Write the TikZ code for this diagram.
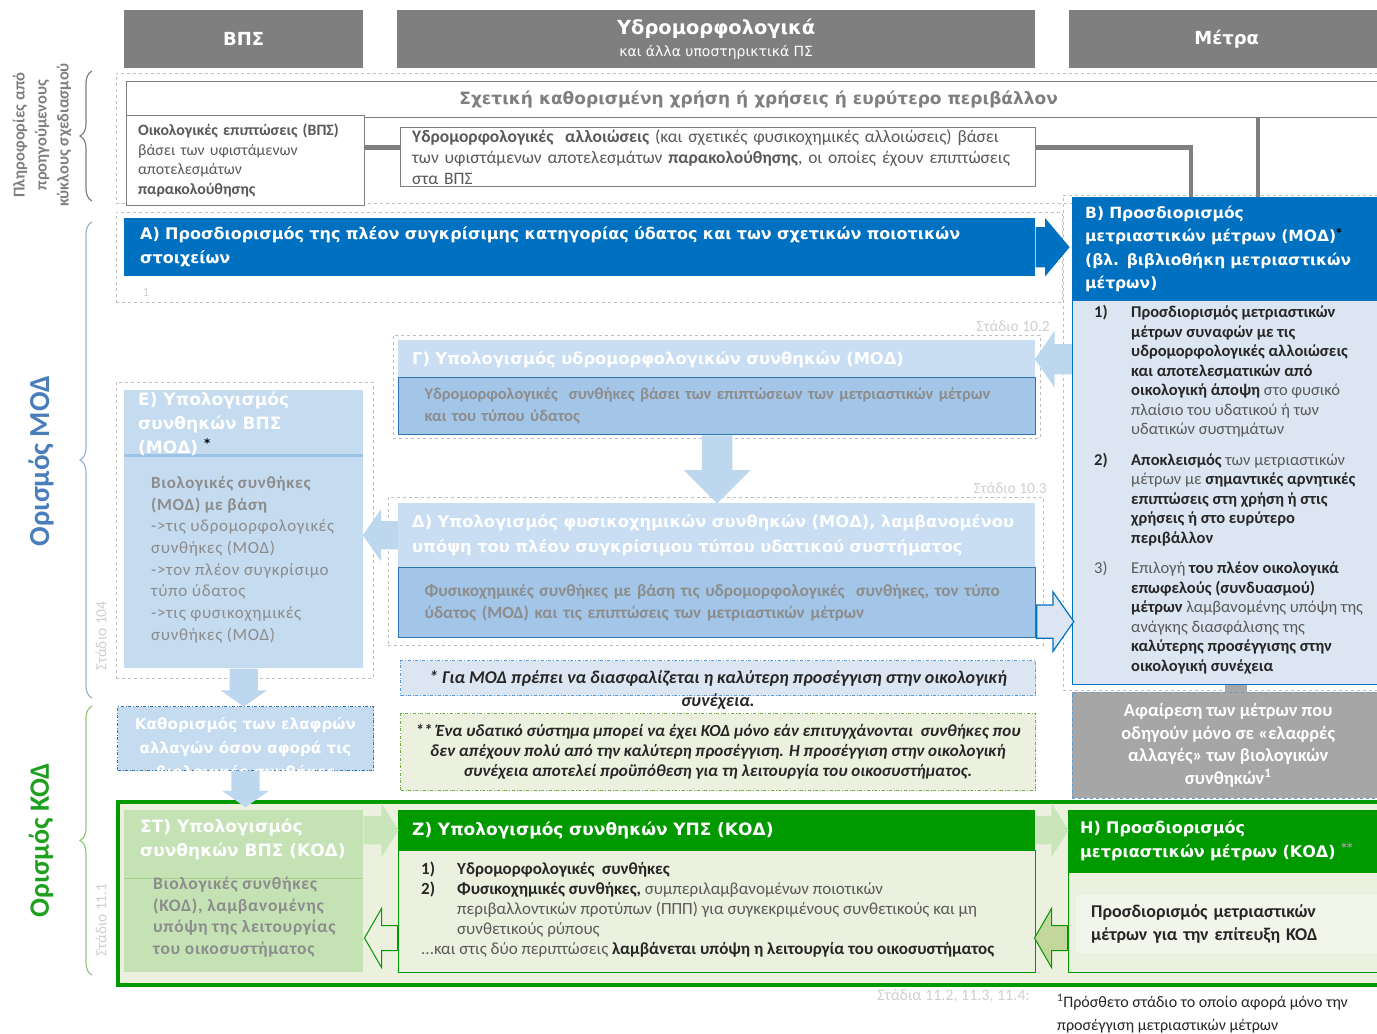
\documentclass[tikz,border=0pt]{standalone}
\usepackage{fontspec}
\setmainfont{Carlito}
\newfontfamily\hfont{DejaVu Sans}
\usetikzlibrary{shapes.arrows,decorations.pathreplacing,calc,positioning}

\definecolor{hdrgray}{HTML}{7F7F7F}
\definecolor{txtgray}{HTML}{595959}
\definecolor{darktxt}{HTML}{262626}
\definecolor{fadegray}{HTML}{8C8C8C}
\definecolor{stagegray}{HTML}{D0CECE}
\definecolor{frmgray}{HTML}{BFBFBF}
\definecolor{modblue}{HTML}{0070C0}
\definecolor{paleblue}{HTML}{DCE6F2}
\definecolor{fadeblue}{HTML}{C9DEF2}
\definecolor{eblue}{HTML}{C5DBF0}
\definecolor{esep}{HTML}{9DC3E6}
\definecolor{midblue}{HTML}{A3C6E8}
\definecolor{lineblue}{HTML}{2E75B6}
\definecolor{arrblue}{HTML}{BDD7EE}
\definecolor{noteblue}{HTML}{5B9BD5}
\definecolor{notegreen}{HTML}{70AD47}
\definecolor{kodgreen}{HTML}{009900}
\definecolor{palegreen}{HTML}{EBF1DE}
\definecolor{stgreen}{HTML}{C5E2B5}
\definecolor{stsep}{HTML}{A9D18E}
\definecolor{arrgreen}{HTML}{C8E6BA}
\definecolor{hzgreen}{HTML}{C3D69B}
\definecolor{hinner}{HTML}{F2F5EA}
\definecolor{starcol}{HTML}{A0A0A0}
\definecolor{dropgray}{HTML}{A6A6A6}
\definecolor{modtitle}{HTML}{4A7EBB}
\definecolor{kodtitle}{HTML}{1EA01E}
\definecolor{braceblue}{HTML}{95B3D7}
\definecolor{bracegreen}{HTML}{8CCB7A}

\newcommand{\fsz}[2]{\fontsize{#1}{#2}\selectfont}
\newcommand{\dkb}[1]{\textbf{\color{darktxt}#1}}

\begin{document}
\begin{tikzpicture}[x=1pt,y=-1pt]
\tikzstyle{hdr}=[anchor=north west,inner sep=0pt,fill=hdrgray,text=white,font=\hfont\bfseries\fsz{18}{22}]
\tikzstyle{frm}=[anchor=north west,inner sep=0pt,draw=frmgray,dashed]
\tikzstyle{infobox}=[anchor=north west,inner sep=0pt,draw=hdrgray,fill=white,align=left,text=txtgray]
\tikzstyle{modhead}=[anchor=north west,inner sep=0pt,fill=modblue,text=white,align=left,font=\hfont\bfseries\fsz{15.5}{23.5}]
\tikzstyle{fadehead}=[anchor=north west,inner sep=0pt,fill=fadeblue,text=white,align=left,font=\hfont\bfseries\fsz{16.3}{25}]
\tikzstyle{fadebody}=[anchor=north west,inner sep=0pt,fill=midblue,draw=lineblue,line width=1.2pt,align=left,text=fadegray]
\tikzstyle{kodhead}=[anchor=north west,inner sep=0pt,fill=kodgreen,text=white,align=left,font=\hfont\bfseries\fsz{17}{24}]
\tikzstyle{kodbody}=[anchor=north west,inner sep=0pt,fill=palegreen,draw=kodgreen,line width=1pt]
\tikzstyle{note}=[anchor=north west,inner sep=0pt,dash dot,line width=1pt]
\tikzstyle{stage}=[inner sep=0pt,text=stagegray,font=\fsz{15.5}{17}]
\tikzstyle{conn}=[draw=hdrgray,line width=4.5pt]
\tikzstyle{blk}=[single arrow,anchor=tail,inner xsep=0pt]
\tikzstyle{curly}=[decorate,decoration={brace,amplitude=12pt},line width=1.2pt]

\useasboundingbox (0,0) rectangle (1377,1034);

% column headers
\node[hdr,minimum width=239,minimum height=58] (bps) at (124,10) {ΒΠΣ};
\node[hdr,minimum width=638,minimum height=58,align=center,font=\hfont\bfseries\fsz{19.4}{22}] (hymo) at (397,10) {Υδρομορφολογικά\\[0pt]{\mdseries\fsz{14}{15}και άλλα υποστηρικτικά ΠΣ}};
\node[hdr,minimum width=315,minimum height=58] (meas) at (1069,10) {Μέτρα};

% information from previous cycles
\node[frm,minimum width=1274,minimum height=130] (prevfrm) at (116,73) {};
\node[anchor=north west,inner sep=0pt,draw=hdrgray,line width=1.2pt,minimum width=1264,minimum height=36,text=hdrgray,font=\hfont\bfseries\fsz{17}{19}] (use) at (126,81) {Σχετική καθορισμένη χρήση ή χρήσεις ή ευρύτερο περιβάλλον};
\node[infobox,minimum width=238,minimum height=90,text width=214,font=\fsz{15.8}{19.5}] (bpsinfo) at (126,115) {\textbf{Οικολογικές επιπτώσεις (ΒΠΣ)}\\βάσει των υφιστάμενων\\αποτελεσμάτων\\\textbf{παρακολούθησης}};
\node[infobox,minimum width=635,minimum height=59,text width=611,font=\fsz{17.5}{21}] (hymoinfo) at (400,127) {\textbf{Υδρομορφολογικές\ \ αλλοιώσεις} (και σχετικές φυσικοχημικές αλλοιώσεις) βάσει\\των υφιστάμενων αποτελεσμάτων \textbf{παρακολούθησης}, οι οποίες έχουν επιπτώσεις\\στα ΒΠΣ};

% A
\node[frm,minimum width=946,minimum height=90] (afrm) at (116,212) {};
\node[modhead,minimum width=911,minimum height=58,text width=879,font=\hfont\bfseries\fsz{16}{24}] (aclass) at (124,218) {Α) Προσδιορισμός της πλέον συγκρίσιμης κατηγορίας ύδατος και των σχετικών ποιοτικών\\στοιχείων};
\node[stage,font=\fsz{13}{15}] (one) at (146,292) {1};

% B
\node[frm,minimum width=327,minimum height=495] (bfrm) at (1063,195) {};
\node[modhead,minimum width=312,minimum height=103,text width=286] (bhead) at (1072,197) {Β) Προσδιορισμός\\μετριαστικών μέτρων (ΜΟΔ)\textsuperscript{\color{black}*}\\(βλ. βιβλιοθήκη μετριαστικών\\μέτρων)};
\node[anchor=north west,inner sep=0pt,fill=paleblue,draw=modblue,line width=1pt,minimum width=312,minimum height=384] (bbody) at (1072,300) {};
\node[anchor=north west,inner sep=0pt,text=txtgray,font=\fsz{16.5}{19.5}] (blist) at (1094,304) {\begin{tabular}{@{}p{37pt}@{}l@{}}
\dkb{1)} & \dkb{Προσδιορισμός μετριαστικών}\\
 & \dkb{μέτρων συναφών με τις}\\
 & \dkb{υδρομορφολογικές αλλοιώσεις}\\
 & \dkb{και αποτελεσματικών από}\\
 & \dkb{οικολογική άποψη} στο φυσικό\\
 & πλαίσιο του υδατικού ή των\\
 & υδατικών συστημάτων\\[11pt]
\dkb{2)} & \dkb{Αποκλεισμός} των μετριαστικών\\
 & μέτρων με \dkb{σημαντικές αρνητικές}\\
 & \dkb{επιπτώσεις στη χρήση ή στις}\\
 & \dkb{χρήσεις ή στο ευρύτερο}\\
 & \dkb{περιβάλλον}\\[11pt]
3) & Επιλογή \dkb{του πλέον οικολογικά}\\
 & \dkb{επωφελούς (συνδυασμού)}\\
 & \dkb{μέτρων} λαμβανομένης υπόψη της\\
 & ανάγκης διασφάλισης της\\
 & \dkb{καλύτερης προσέγγισης στην}\\
 & \dkb{οικολογική συνέχεια}
\end{tabular}};

% grey links to B
\coordinate (hyin) at ([yshift=9pt]hymoinfo.west);
\coordinate (hyout) at ([yshift=9pt]hymoinfo.east);
\coordinate (bleft) at ([xshift=-37pt]bhead.north);
\coordinate (bright) at ([xshift=30pt]bhead.north);
\draw[conn] (bpsinfo.east |- hyin) -- (hyin);
\draw[conn] (hyout) -| (bleft);
\draw[conn] (bright |- use.south) -- (bright);

% Gamma
\node[frm,minimum width=647,minimum height=103] (gfrm) at (393,335) {};
\node[stage,anchor=south east] (g102) at (1050,332) {Στάδιο 10.2};
\node[fadehead,minimum width=637,minimum height=38,text width=609] (gtitle) at (398,340) {Γ) Υπολογισμός υδρομορφολογικών συνθηκών (ΜΟΔ)};
\node[fadebody,minimum width=637,minimum height=57,text width=585,font=\bfseries\fsz{16.5}{21.5}] (gbody) at (398,377) {Υδρομορφολογικές\ \ συνθήκες βάσει των επιπτώσεων των μετριαστικών μέτρων\\και του τύπου ύδατος};

% Delta
\node[frm,minimum width=655,minimum height=148] (dfrm) at (388,497) {};
\node[stage,anchor=south east] (d103) at (1047,494) {Στάδιο 10.3};
\node[fadehead,minimum width=637,minimum height=64,text width=609] (dtitle) at (398,503) {Δ) Υπολογισμός φυσικοχημικών συνθηκών (ΜΟΔ), λαμβανομένου\\υπόψη του πλέον συγκρίσιμου τύπου υδατικού συστήματος};
\node[fadebody,minimum width=637,minimum height=70,text width=585,font=\bfseries\fsz{17.2}{22}] (dbody) at (398,567) {Φυσικοχημικές συνθήκες με βάση τις υδρομορφολογικές\ \ συνθήκες, τον τύπο\\ύδατος (ΜΟΔ) και τις επιπτώσεις των μετριαστικών μέτρων};

% E
\node[frm,minimum width=257,minimum height=296] (efrm) at (116,382) {};
\node[anchor=north west,inner sep=0pt,fill=eblue,minimum width=239,minimum height=278] (ebox) at (124,390) {};
\coordinate (esepy) at (0,455);
\draw[line width=3pt,draw=esep] (ebox.west |- esepy) -- (ebox.east |- esepy);
\node[anchor=north west,inner sep=0pt,align=left,text=white,font=\hfont\bfseries\fsz{17}{24}] (etitle) at (138,392) {Ε) Υπολογισμός\\συνθηκών ΒΠΣ\\(ΜΟΔ)\ \textsuperscript{\color{black}*}};
\node[anchor=north west,inner sep=0pt,align=left,text=fadegray,font=\fsz{17}{21.7}\addfontfeature{LetterSpace=4}] (etext) at (151,476) {\textbf{Βιολογικές συνθήκες}\\\textbf{(ΜΟΔ) με βάση}\\->τις υδρομορφολογικές\\συνθήκες (ΜΟΔ)\\->τον πλέον συγκρίσιμο\\τύπο ύδατος\\->τις φυσικοχημικές\\συνθήκες (ΜΟΔ)};
\node[stage,rotate=90] (s104) at (101,636) {Στάδιο 104};

% slight changes
\node[note,draw=lineblue,fill=eblue,minimum width=256,minimum height=64] (light) at (117,706) {};
\begin{scope}
\clip (light.north west) rectangle (light.south east);
\node[anchor=north,inner sep=0pt,align=center,text=white,font=\hfont\bfseries\fsz{15.2}{24}] (lighttxt) at ([yshift=-11pt]light.north) {Καθορισμός των ελαφρών\\αλλαγών όσον αφορά τις\\βιολογικές συνθήκες};
\end{scope}

% notes
\node[note,draw=noteblue,fill=paleblue,minimum width=635,minimum height=35] (fnmod) at (400,660) {};
\node[anchor=north,inner sep=0pt,align=center,text=darktxt,font=\bfseries\itshape\fsz{18}{23}] (fnmodtxt) at ([yshift=-10pt]fnmod.north) {* Για ΜΟΔ πρέπει να διασφαλίζεται η καλύτερη προσέγγιση στην οικολογική\\συνέχεια.};
\node[note,draw=notegreen,fill=palegreen,minimum width=635,minimum height=77] (fnkod) at (400,713) {};
\node[inner sep=0pt,align=center,text=darktxt,font=\bfseries\itshape\fsz{17}{20}] (fnkodtxt) at (fnkod.center) {** Ένα υδατικό σύστημα μπορεί να έχει ΚΟΔ μόνο εάν επιτυγχάνονται\ \ συνθήκες που\\δεν απέχουν πολύ από την καλύτερη προσέγγιση. Η προσέγγιση στην οικολογική\\συνέχεια αποτελεί προϋπόθεση για τη λειτουργία του οικοσυστήματος.};

% removal of measures
\node[anchor=north west,inner sep=0pt,fill=dropgray,draw=noteblue,dashed,minimum width=312,minimum height=106,align=center,text=white,font=\bfseries\fsz{18.5}{22.5}] (drop) at (1072,692) {Αφαίρεση των μέτρων που\\οδηγούν μόνο σε «ελαφρές\\αλλαγές» των βιολογικών\\συνθηκών\textsuperscript{1}};
\coordinate (tabx) at (1236,0);
\draw[draw=dropgray,line width=22pt] (bbody.south -| tabx) -- (drop.north -| tabx);

% KOD
\node[anchor=north west,inner sep=0pt,draw=kodgreen,line width=3.5pt,fill=palegreen,minimum width=1274,minimum height=183] (kodfrm) at (116,800) {};
\node[anchor=north west,inner sep=0pt,fill=stgreen,minimum width=239,minimum height=162] (stbox) at (124,810) {};
\coordinate (stsepy) at (0,878);
\draw[draw=stsep,line width=1pt] (stbox.west |- stsepy) -- (stbox.east |- stsepy);
\node[anchor=north west,inner sep=0pt,align=left,text=white,font=\hfont\bfseries\fsz{17}{24}] (sttitle) at (140,819) {ΣΤ) Υπολογισμός\\συνθηκών ΒΠΣ (ΚΟΔ)};
\node[anchor=north west,inner sep=0pt,align=left,text=fadegray,font=\bfseries\fsz{17.5}{21.5}\addfontfeature{LetterSpace=4}] (sttext) at (153,877) {Βιολογικές συνθήκες\\(ΚΟΔ), λαμβανομένης\\υπόψη της λειτουργίας\\του οικοσυστήματος};
\node[stage,rotate=90] (s111) at (101,920) {Στάδιο 11.1};

\node[kodhead,minimum width=637,minimum height=40,text width=609] (ztitle) at (398,810) {Ζ) Υπολογισμός συνθηκών ΥΠΣ (ΚΟΔ)};
\node[kodbody,minimum width=637,minimum height=122] (zbody) at (398,850) {};
\node[anchor=north west,inner sep=0pt,text=txtgray,font=\fsz{17}{20}] (zlist) at (421,860) {\begin{tabular}{@{}p{36pt}@{}l@{}}
\dkb{1)} & \dkb{Υδρομορφολογικές\ \ συνθήκες}\\
\dkb{2)} & \dkb{Φυσικοχημικές συνθήκες,} συμπεριλαμβανομένων ποιοτικών\\
 & περιβαλλοντικών προτύπων (ΠΠΠ) για συγκεκριμένους συνθετικούς και μη\\
 & συνθετικούς ρύπους\\
\multicolumn{2}{@{}l@{}}{...και στις δύο περιπτώσεις \dkb{λαμβάνεται υπόψη η λειτουργία του οικοσυστήματος}}
\end{tabular}};

\node[kodhead,minimum width=316,minimum height=62,text width=292,font=\hfont\bfseries\fsz{16}{24}] (htitle) at (1068,810) {Η) Προσδιορισμός\\μετριαστικών μέτρων (ΚΟΔ)\ \textsuperscript{\color{starcol}**}};
\node[kodbody,minimum width=316,minimum height=100] (hbody) at (1068,872) {};
\node[anchor=north west,inner sep=0pt,fill=hinner,minimum width=310,minimum height=58,text width=280,align=left,text=darktxt,font=\bfseries\fsz{18}{23}] (htext) at (1076,895) {Προσδιορισμός μετριαστικών\\μέτρων για την επίτευξη ΚΟΔ};

% block arrows
\coordinate (backy) at (0,938);
\node[blk,fill=modblue,minimum height=34,inner ysep=20pt,single arrow head extend=9pt,single arrow tip angle=100] (ab) at (aclass.east) {};
\node[blk,fill=arrblue,rotate=180,minimum height=37,inner ysep=15pt,single arrow head extend=13pt,single arrow tip angle=110] (bg) at (bbody.west |- gtitle.east) {};
\node[blk,fill=arrblue,rotate=-90,minimum height=68,inner ysep=15pt,single arrow head extend=18pt] (gd) at (gbody.south) {};
\node[blk,fill=arrblue,rotate=180,minimum height=35,inner ysep=14pt,single arrow head extend=12pt,single arrow tip angle=110] (de) at (dtitle.west) {};
\node[blk,fill=paleblue,draw=modblue,line width=1.2pt,minimum height=37,inner ysep=16pt,single arrow head extend=13pt,single arrow tip angle=110] (db) at ([yshift=-19pt]dbody.east) {};
\node[blk,fill=arrblue,rotate=-90,minimum height=38,inner ysep=14pt,single arrow head extend=9pt,single arrow tip angle=110] (el) at (ebox.south) {};
\node[blk,fill=arrblue,rotate=-90,minimum height=36,inner ysep=14pt,single arrow head extend=9pt,single arrow tip angle=110] (lst) at (light.south) {};
\node[blk,fill=arrgreen,minimum height=35,inner ysep=14pt,single arrow head extend=13pt,single arrow tip angle=115] (stz) at (stbox.east |- ztitle.east) {};
\node[blk,fill=palegreen,draw=kodgreen,line width=1pt,rotate=180,minimum height=33,inner ysep=12pt,single arrow head extend=17pt,single arrow tip angle=120] (zst) at (zbody.west |- backy) {};
\node[blk,fill=arrgreen,minimum height=33,inner ysep=14pt,single arrow head extend=13pt,single arrow tip angle=115] (zh) at (ztitle.east) {};
\node[blk,fill=hzgreen,draw=kodgreen,line width=1pt,rotate=180,minimum height=33,inner ysep=12pt,single arrow head extend=17pt,single arrow tip angle=120] (hz) at (hbody.west |- backy) {};

% braces and side labels
\draw[curly,draw=hdrgray] (92,201) -- (92,71);
\draw[curly,draw=braceblue] (92,698) -- (92,222);
\draw[curly,draw=bracegreen] (92,975) -- (92,706);
\node[rotate=90,align=center,text=hdrgray,font=\bfseries\fsz{16.5}{22}] (prevlbl) at (42,135) {Πληροφορίες από\\προηγούμενους\\κύκλους σχεδιασμού};
\node[rotate=90,text=modtitle,font=\bfseries\fsz{29}{31}] (modlbl) at (41,461) {Ορισμός ΜΟΔ};
\node[rotate=90,text=kodtitle,font=\bfseries\fsz{28}{30}] (kodlbl) at (41,840) {Ορισμός ΚΟΔ};

% footer
\node[stage,anchor=east,font=\fsz{16}{18}] (s112) at (1030,996) {Στάδια 11.2, 11.3, 11.4:};
\node[anchor=north west,inner sep=0pt,align=left,text=darktxt,font=\fsz{16}{23}] (footone) at (1057,994) {\textsuperscript{1}Πρόσθετο στάδιο το οποίο αφορά μόνο την\\προσέγγιση μετριαστικών μέτρων};
\end{tikzpicture}
\end{document}
